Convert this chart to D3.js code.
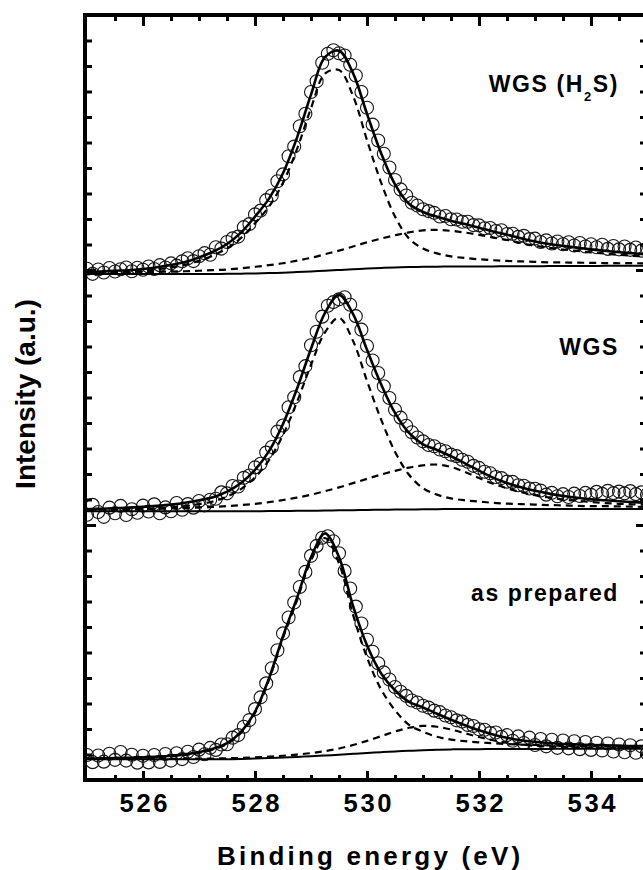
<!DOCTYPE html>
<html>
<head>
<meta charset="utf-8">
<script src="https://cdn.jsdelivr.net/npm/d3@7"></script>
<style>
  html, body { margin: 0; padding: 0; background: #fff; }
  svg { display: block; font-family: "Liberation Sans", Arial, Helvetica, sans-serif; font-weight: bold; }
</style>
</head>
<body>
<svg id="chart" width="643" height="870"></svg>
<script>
// O 1s spectra: binding energy grids (eV)
const fitEnergy = [525, 525.25, 525.5, 525.75, 526, 526.25, 526.5, 526.75, 527, 527.25,
  527.5, 527.75, 528, 528.25, 528.5, 528.75, 529, 529.25, 529.5, 529.75,
  530, 530.25, 530.5, 530.75, 531, 531.25, 531.5, 531.75, 532, 532.25,
  532.5, 532.75, 533, 533.25, 533.5, 533.75, 534, 534.25, 534.5, 534.75, 535];

const dataEnergy = [
  525.0, 525.1, 525.2, 525.3, 525.4, 525.5, 525.6, 525.7, 525.8, 525.9,
  526.0, 526.1, 526.2, 526.3, 526.4, 526.5, 526.6, 526.7, 526.8, 526.9,
  527.0, 527.1, 527.2, 527.3, 527.4, 527.5, 527.6, 527.7, 527.8, 527.9,
  528.0, 528.1, 528.2, 528.3, 528.4, 528.5, 528.6, 528.7, 528.8, 528.9,
  529.0, 529.1, 529.2, 529.3, 529.4, 529.5, 529.6, 529.7, 529.8, 529.9,
  530.0, 530.1, 530.2, 530.3, 530.4, 530.5, 530.6, 530.7, 530.8, 530.9,
  531.0, 531.1, 531.2, 531.3, 531.4, 531.5, 531.6, 531.7, 531.8, 531.9,
  532.0, 532.1, 532.2, 532.3, 532.4, 532.5, 532.6, 532.7, 532.8, 532.9,
  533.0, 533.1, 533.2, 533.3, 533.4, 533.5, 533.6, 533.7, 533.8, 533.9,
  534.0, 534.1, 534.2, 534.3, 534.4, 534.5, 534.6, 534.7, 534.8, 534.9,
  535.0];

// ---- WGS (H2S) ----
const bgH2S = [-1.6, -1.6, -1.6, -1.6, -1.6, -1.6, -1.6, -1.6, -1.6, -1.55,
  -1.5, -1.45, -1.35, -1.2, -1.05, -0.8, -0.55, -0.3, 0, 0.3,
  0.55, 0.8, 1.0, 1.15, 1.25, 1.3, 1.35, 1.4, 1.4, 1.42,
  1.45, 1.47, 1.5, 1.52, 1.55, 1.57, 1.6, 1.62, 1.65, 1.67, 1.7];
const latticeH2S = [0.2, 0.4, 0.6, 0.8, 1.2, 1.8, 2.6, 3.6, 5.2, 7.2,
  10.0, 14.0, 19.7, 26.1, 35.3, 48.2, 64.0, 77.3, 78.4, 68.0,
  50.4, 33.6, 20.0, 11.2, 7.2, 5.2, 4.0, 3.3, 2.8, 2.4,
  2.1, 1.9, 1.7, 1.5, 1.4, 1.3, 1.2, 1.1, 1.0, 1.0, 0.9];
const hydroxylH2S = [0.6, 0.6, 0.7, 0.7, 0.8, 0.9, 1.0, 1.1, 1.3, 1.5,
  1.7, 2.1, 2.6, 3.1, 3.7, 4.5, 5.3, 6.5, 7.6, 8.9,
  10.3, 11.5, 12.6, 13.6, 14.3, 14.4, 14.0, 13.3, 12.4, 11.3,
  10.3, 9.1, 8.0, 7.2, 6.5, 5.9, 5.3, 4.8, 4.3, 3.9, 3.5];
const countsH2S = [
  0.5, -1.5, 0.2, -1.0, 0.8, -0.6, 0.3, 1.0, -0.5, 0.9,
  0.1, 1.4, 0.4, 1.9, 1.0, 2.6, 1.7, 3.4, 4.6, 3.5,
  5.4, 6.6, 6.0, 8.9, 8.4, 11.0, 12.4, 13.1, 16.8, 18.0,
  21.8, 23.3, 27.4, 29.2, 34.8, 37.5, 44.6, 48.4, 56.4, 61.3,
  69.8, 74.0, 81.3, 84.8, 86.2, 85.0, 84.1, 80.5, 76.3, 69.8,
  63.6, 57.0, 50.8, 45.6, 40.2, 35.3, 31.6, 29.2, 26.4, 25.3,
  23.8, 23.1, 22.4, 21.0, 21.2, 19.9, 19.8, 18.9, 18.9, 17.6,
  17.5, 16.4, 16.5, 15.3, 15.6, 14.1, 14.2, 13.0, 13.4, 12.1,
  12.3, 11.0, 11.6, 10.4, 11.2, 10.1, 10.9, 9.6, 10.6, 9.2,
  10.1, 8.9, 9.9, 8.3, 9.4, 8.1, 9.2, 7.9, 8.8, 7.6,
  8.4];

// ---- WGS ----
const bgWGS = [5.4, 5.4, 5.4, 5.4, 5.4, 5.4, 5.4, 5.4, 5.4, 5.4,
  5.4, 5.4, 5.4, 5.45, 5.5, 5.55, 5.6, 5.68, 5.75, 5.82,
  5.9, 5.98, 6.05, 6.1, 6.15, 6.2, 6.25, 6.28, 6.3, 6.3,
  6.3, 6.3, 6.3, 6.3, 6.3, 6.3, 6.3, 6.3, 6.3, 6.3, 6.3];
const latticeWGS = [0.2, 0.3, 0.5, 0.6, 0.8, 1.1, 1.5, 2.0, 2.8, 3.8,
  5.7, 8.7, 13.3, 20.0, 29.8, 42.7, 57.2, 69.9, 75.5, 66.4,
  50.6, 35.5, 22.7, 13.6, 8.3, 5.7, 4.2, 3.4, 2.9, 2.4,
  2.1, 1.9, 1.7, 1.5, 1.4, 1.2, 1.1, 1.1, 1.0, 0.9, 0.8];
const hydroxylWGS = [0.6, 0.7, 0.7, 0.8, 0.9, 1.0, 1.1, 1.3, 1.5, 1.7,
  2.0, 2.4, 2.9, 3.5, 4.3, 5.2, 6.3, 7.6, 9.0, 10.6,
  12.2, 13.8, 15.2, 16.4, 17.2, 17.5, 16.5, 14.5, 12.1, 9.9,
  8.1, 6.6, 5.4, 4.5, 3.7, 3.2, 2.7, 2.3, 2.0, 1.8, 1.6];
const countsWGS = [
  4.0, 7.9, 5.1, 3.2, 6.8, 4.6, 7.5, 3.9, 6.2, 4.8,
  7.6, 5.3, 8.1, 4.6, 6.9, 5.4, 8.6, 6.0, 8.2, 6.8,
  9.4, 7.7, 9.9, 10.3, 12.8, 12.4, 15.3, 15.1, 18.5, 19.4,
  22.6, 24.0, 28.4, 30.6, 36.6, 39.0, 46.2, 50.1, 58.0, 62.3,
  70.5, 75.8, 81.7, 86.0, 87.4, 88.5, 89.3, 86.4, 81.9, 76.6,
  70.2, 64.5, 59.6, 54.4, 49.8, 45.2, 42.1, 38.9, 36.4, 34.3,
  32.8, 31.4, 30.9, 29.6, 28.9, 27.6, 27.0, 25.6, 24.8, 23.2,
  22.4, 20.9, 20.3, 18.8, 18.4, 17.0, 16.9, 15.6, 15.4, 14.3,
  14.2, 13.5, 11.9, 12.6, 11.3, 12.1, 11.0, 12.3, 11.4, 12.6,
  11.8, 13.0, 12.2, 13.4, 12.5, 13.1, 12.4, 13.3, 12.1, 12.8,
  11.9];

// ---- as prepared ----
const bgFresh = [8.1, 8.1, 8.1, 8.1, 8.1, 8.1, 8.1, 8.1, 8.1, 8.1,
  8.15, 8.25, 8.4, 8.6, 8.8, 9.05, 9.3, 9.6, 9.9, 10.25,
  10.6, 10.9, 11.2, 11.45, 11.7, 11.85, 12.0, 12.05, 12.1, 12.12,
  12.14, 12.16, 12.2, 12.2, 12.22, 12.24, 12.25, 12.26, 12.27, 12.28, 12.3];
const latticeFresh = [0.17, 0.26, 0.34, 0.43, 0.6, 0.85, 1.19, 1.71, 2.56, 3.84,
  5.97, 10.24, 17.9, 30.7, 46.9, 61.4, 76.8, 85.3, 75.1, 54.6,
  37.5, 24.7, 16.2, 10.2, 7.25, 5.1, 3.84, 3.16, 2.64, 2.3,
  1.96, 1.71, 1.54, 1.36, 1.19, 1.11, 1.02, 0.94, 0.85, 0.77, 0.77];
const hydroxylFresh = [0.13, 0.14, 0.15, 0.17, 0.18, 0.2, 0.23, 0.25, 0.29, 0.31,
  0.36, 0.42, 0.48, 0.57, 0.72, 0.93, 1.24, 1.74, 2.46, 3.46,
  4.75, 6.27, 7.79, 9.03, 9.5, 9.03, 7.79, 6.27, 4.75, 3.46,
  2.46, 1.74, 1.24, 0.93, 0.72, 0.57, 0.48, 0.42, 0.36, 0.31, 0.29];
const countsFresh = [
  9.8, 7.0, 9.6, 7.2, 10.3, 7.9, 11.0, 7.6, 9.9, 6.8,
  9.5, 6.9, 9.8, 7.1, 10.2, 7.6, 10.5, 8.2, 11.1, 9.0,
  11.9, 10.1, 12.6, 11.8, 13.9, 14.0, 16.6, 17.6, 20.9, 23.5,
  27.8, 32.4, 37.9, 43.8, 50.9, 57.5, 63.7, 69.6, 75.7, 81.6,
  87.9, 91.8, 95.0, 95.6, 93.6, 88.9, 82.0, 75.1, 68.0, 61.4,
  55.0, 50.3, 45.8, 42.2, 39.4, 36.5, 34.6, 33.0, 31.2, 30.4,
  29.1, 28.4, 27.2, 26.6, 25.3, 24.6, 23.4, 22.9, 21.6, 21.2,
  19.9, 19.7, 18.4, 18.6, 16.9, 17.6, 15.4, 17.1, 14.5, 16.6,
  13.7, 16.1, 13.2, 15.8, 12.6, 15.5, 12.4, 15.2, 12.1, 14.9,
  11.8, 14.6, 11.6, 14.3, 11.2, 13.9, 10.9, 13.6, 10.7, 13.2,
  10.5];

// Axis ticks
const majorTicks = [526, 528, 530, 532, 534];
const majorTickLabels = ["526", "528", "530", "532", "534"];
const minorTicks = [525.5, 526.5, 527, 527.5, 528.5, 529, 529.5, 530.5, 531, 531.5, 532.5, 533, 533.5, 534.5];
const intensityTicks = [10, 20, 30, 40, 50, 60, 70, 80, 90, 110, 120, 130, 140, 150, 160, 170, 180, 190,
  210, 220, 230, 240, 250, 260, 270, 280, 290];
const panelBreaks = [100, 200];

// Stacked spectra: each one sits on its own 100-unit offset
const panels = [
  { offset: 200, bg: bgH2S, lattice: latticeH2S, hydroxyl: hydroxylH2S, counts: countsH2S, labelY: 91.5, sub: true },
  { offset: 100, bg: bgWGS, lattice: latticeWGS, hydroxyl: hydroxylWGS, counts: countsWGS, labelY: 355, text: "WGS" },
  { offset: 0, bg: bgFresh, lattice: latticeFresh, hydroxyl: hydroxylFresh, counts: countsFresh, labelY: 601, text: "as prepared" }
];

const svg = d3.select("#chart");
svg.append("rect").attr("width", 643).attr("height", 870).attr("fill", "#fff");

const x = d3.scaleLinear().domain([525, 535]).range([87, 647]);
const y = d3.scaleLinear().domain([0, 300]).range([780, 15]);

svg.append("defs").append("clipPath").attr("id", "plotClip")
  .append("rect")
  .attr("x", x(525) - 1).attr("y", y(300) + 2)
  .attr("width", x(535) - x(525) + 1).attr("height", y(0) - y(300) - 4);

const plotArea = svg.append("g").attr("clip-path", "url(#plotClip)");

const line = d3.line()
  .x(d => x(d[0]))
  .y(d => y(d[1]))
  .curve(d3.curveCatmullRom.alpha(0.5));

panels.forEach(p => {
  const g = plotArea.append("g");
  const bgPts = fitEnergy.map((e, i) => [e, p.offset + p.bg[i]]);
  const latPts = fitEnergy.map((e, i) => [e, p.offset + p.bg[i] + p.lattice[i]]);
  const ohPts = fitEnergy.map((e, i) => [e, p.offset + p.bg[i] + p.hydroxyl[i]]);
  const envPts = fitEnergy.map((e, i) => [e, p.offset + p.bg[i] + p.lattice[i] + p.hydroxyl[i]]);

  // measured points
  g.append("g").selectAll("circle")
    .data(dataEnergy.map((e, i) => [e, p.offset + p.counts[i]]))
    .join("circle")
    .attr("cx", d => x(d[0]))
    .attr("cy", d => y(d[1]))
    .attr("r", 6.5)
    .attr("fill", "none")
    .attr("stroke", "#141414")
    .attr("stroke-width", 1.1);

  // background
  g.append("path").attr("d", line(bgPts))
    .attr("fill", "none").attr("stroke", "#000").attr("stroke-width", 2);
  // fitted components
  [latPts, ohPts].forEach(pts => {
    g.append("path").attr("d", line(pts))
      .attr("fill", "none").attr("stroke", "#000").attr("stroke-width", 2.2)
      .attr("stroke-dasharray", "7,5");
  });
  // envelope
  g.append("path").attr("d", line(envPts))
    .attr("fill", "none").attr("stroke", "#000").attr("stroke-width", 2.6);
});

// Axes
function styleAxis(g, width) {
  g.attr("font-family", null).attr("font-size", null);
  g.select(".domain").remove();
  g.selectAll(".tick line").attr("stroke", "#000").attr("stroke-width", width);
}

const bottomMajor = svg.append("g").attr("transform", `translate(0,${y(0)})`)
  .call(d3.axisBottom(x).tickValues(majorTicks).tickSizeInner(-9).tickSizeOuter(0)
    .tickPadding(14).tickFormat((d, i) => majorTickLabels[i]));
styleAxis(bottomMajor, 3);
bottomMajor.selectAll(".tick text")
  .attr("fill", "#000")
  .attr("font-size", 25.6)
  .attr("font-weight", "bold")
  .attr("letter-spacing", 2.7)
  .attr("dx", 1.35);

const bottomMinor = svg.append("g").attr("transform", `translate(0,${y(0)})`)
  .call(d3.axisBottom(x).tickValues(minorTicks).tickSizeInner(-5).tickSizeOuter(0).tickFormat(""));
styleAxis(bottomMinor, 3);

const topMajor = svg.append("g").attr("transform", `translate(0,${y(300)})`)
  .call(d3.axisTop(x).tickValues(majorTicks).tickSizeInner(-11).tickSizeOuter(0).tickFormat(""));
styleAxis(topMajor, 3);
const topMinor = svg.append("g").attr("transform", `translate(0,${y(300)})`)
  .call(d3.axisTop(x).tickValues(minorTicks).tickSizeInner(-6).tickSizeOuter(0).tickFormat(""));
styleAxis(topMinor, 3);

[[d3.axisLeft, 85], [d3.axisRight, 647]].forEach(([axisFn, px]) => {
  const a = svg.append("g").attr("transform", `translate(${px},0)`)
    .call(axisFn(y).tickValues(intensityTicks).tickSizeInner(-7).tickSizeOuter(0).tickFormat(""));
  styleAxis(a, 3);
  const b = svg.append("g").attr("transform", `translate(${px},0)`)
    .call(axisFn(y).tickValues(panelBreaks).tickSizeInner(-11).tickSizeOuter(0).tickFormat(""));
  styleAxis(b, 3);
});

// Frame
svg.append("path")
  .attr("d", `M85,${y(0)} V${y(300)} H647 V${y(0)} Z`)
  .attr("fill", "none").attr("stroke", "#000").attr("stroke-width", 4);

// Sample labels
panels.forEach(p => {
  const t = svg.append("text")
    .attr("x", 619).attr("y", p.labelY)
    .attr("text-anchor", "end")
    .attr("font-size", 23)
    .attr("letter-spacing", 1.6)
    .attr("fill", "#000");
  if (p.sub) {
    t.append("tspan").text("WGS (H");
    t.append("tspan").attr("font-size", 13).attr("dy", 9).text("2");
    t.append("tspan").attr("dy", -9).text("S)");
  } else {
    t.text(p.text);
  }
});

// Axis titles
svg.append("text")
  .attr("x", 217).attr("y", 865)
  .attr("font-size", 26)
  .attr("letter-spacing", 3.2)
  .attr("fill", "#000")
  .text("Binding energy (eV)");

svg.append("text")
  .attr("transform", "translate(35,394) rotate(-90)")
  .attr("text-anchor", "middle")
  .attr("font-size", 28)
  .attr("fill", "#000")
  .text("Intensity (a.u.)");
</script>
</body>
</html>
